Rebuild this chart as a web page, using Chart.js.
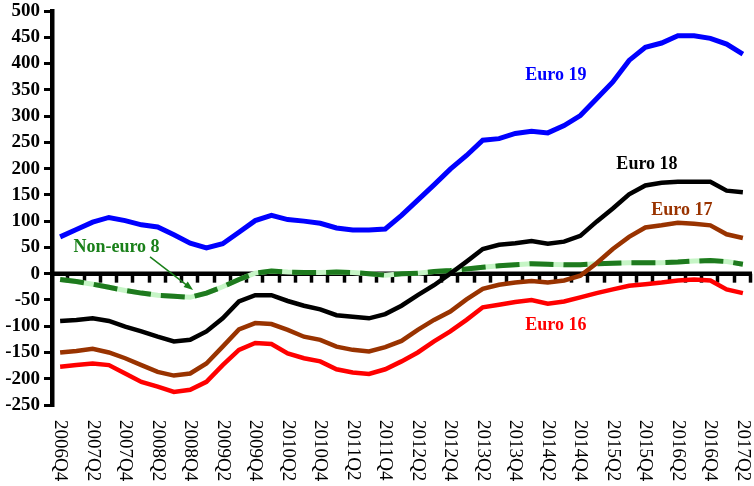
<!DOCTYPE html>
<html>
<head>
<meta charset="utf-8">
<script src="https://cdn.jsdelivr.net/npm/chart.js@4/dist/chart.umd.min.js"></script>
<style>
  html, body { margin: 0; padding: 0; background: #fff; }
  #wrap { width: 754px; height: 486px; }
</style>
</head>
<body>
<div id="wrap"><canvas id="grafico" width="754" height="486"></canvas></div>
<script>
const quarters = [
  '2006Q4', '2007Q1', '2007Q2', '2007Q3', '2007Q4', '2008Q1', '2008Q2', '2008Q3', '2008Q4',
  '2009Q1', '2009Q2', '2009Q3', '2009Q4', '2010Q1', '2010Q2', '2010Q3', '2010Q4',
  '2011Q1', '2011Q2', '2011Q3', '2011Q4', '2012Q1', '2012Q2', '2012Q3', '2012Q4',
  '2013Q1', '2013Q2', '2013Q3', '2013Q4', '2014Q1', '2014Q2', '2014Q3', '2014Q4',
  '2015Q1', '2015Q2', '2015Q3', '2015Q4', '2016Q1', '2016Q2', '2016Q3', '2016Q4',
  '2017Q1', '2017Q2'
];

const euro19 = [70, 84, 98, 107, 101, 93, 89, 74, 58, 49, 57, 79, 101, 111, 103, 100, 96, 87, 83, 83, 85,
  111, 140, 169, 199, 225, 254, 257, 267, 271, 268, 282, 301, 333, 365, 406, 431, 439, 453, 453, 448, 437, 418];
const euro18 = [-90, -88, -85, -90, -101, -110, -120, -129, -126, -110, -85, -53, -41, -41, -52, -61, -68, -79, -82, -85, -77,
  -61, -41, -22, 0, 23, 47, 55, 58, 62, 57, 61, 72, 99, 124, 151, 168, 173, 175, 175, 175, 158, 155];
const euro17 = [-150, -147, -143, -150, -161, -174, -187, -194, -190, -171, -139, -106, -94, -96, -107, -120, -126, -139, -145, -148, -140,
  -128, -107, -88, -72, -49, -29, -21, -17, -14, -17, -13, -4, 20, 47, 70, 88, 92, 97, 95, 92, 75, 68];
const euro16 = [-177, -174, -171, -174, -190, -206, -215, -225, -221, -206, -174, -145, -132, -134, -152, -161, -167, -182, -188, -191, -182,
  -167, -150, -129, -110, -88, -64, -59, -54, -50, -57, -53, -45, -37, -30, -23, -20, -17, -13, -11, -13, -30, -37];
const nonEuro8 = [-11, -15, -20, -26, -32, -37, -41, -43, -45, -37, -25, -11, 1, 5, 3, 2, 2, 3, 2, 0, -3,
  0, 1, 4, 6, 9, 12, 15, 17, 19, 18, 17, 17, 19, 20, 21, 21, 21, 22, 24, 25, 23, 18];

const yMin = -250, yMax = 500, yStep = 50;

const serif = "'Liberation Serif', 'Times New Roman', serif";

// etiquetas de las series: [texto, color, indice (fraccional), valor]
const rotulos = [
  ['Euro 19', '#0000ff', 30.5, 378],
  ['Euro 18', '#000000', 36.1, 209],
  ['Euro 17', '#993300', 38.25, 121],
  ['Euro 16', '#ff0000', 30.5, -98],
  ['Non-euro 8', '#1a801a', 3.47, 51]
];

const ejesPlugin = {
  id: 'ejes',
  beforeDatasetsDraw(chart) {
    const { ctx, chartArea } = chart;
    const y = chart.scales.y;
    const y0 = y.getPixelForValue(0);
    const n = quarters.length;
    const w = (chartArea.right - chartArea.left) / n;
    ctx.save();
    ctx.strokeStyle = '#000';
    ctx.lineWidth = 3.5;
    for (let k = 1; k <= n; k++) {
      const px = Math.round(chartArea.left + k * w) - 0.5;
      ctx.beginPath();
      ctx.moveTo(px, y0);
      ctx.lineTo(px, y0 + 9);
      ctx.stroke();
    }
    ctx.lineWidth = 4.5;
    ctx.beginPath();
    ctx.moveTo(chartArea.left, y0);
    ctx.lineTo(chartArea.right + 1, y0);
    ctx.stroke();
    ctx.restore();
  },
  afterDraw(chart) {
    const { ctx } = chart;
    const x = chart.scales.x, y = chart.scales.y;

    // rotulos del eje x, girados hacia abajo
    ctx.save();
    ctx.fillStyle = '#000';
    ctx.font = '19px ' + serif;
    ctx.textAlign = 'left';
    ctx.textBaseline = 'middle';
    for (let i = 0; i < quarters.length; i += 2) {
      ctx.save();
      ctx.translate(x.getPixelForValue(i), 420);
      ctx.rotate(Math.PI / 2);
      ctx.fillText(quarters[i], 0, 0);
      ctx.restore();
    }
    ctx.restore();

    // nombres de las series
    ctx.save();
    ctx.font = 'bold 18px ' + serif;
    ctx.textAlign = 'center';
    ctx.textBaseline = 'middle';
    rotulos.forEach(([txt, col, idx, val]) => {
      ctx.fillStyle = col;
      ctx.fillText(txt, x.getPixelForValue(idx), y.getPixelForValue(val));
    });

    // flecha de Non-euro 8
    const x1 = x.getPixelForValue(5.53), y1 = y.getPixelForValue(32);
    const x2 = x.getPixelForValue(8.18), y2 = y.getPixelForValue(-31);
    const ang = Math.atan2(y2 - y1, x2 - x1);
    ctx.strokeStyle = '#1a801a';
    ctx.fillStyle = '#1a801a';
    ctx.lineWidth = 1.5;
    ctx.beginPath();
    ctx.moveTo(x1, y1);
    ctx.lineTo(x2 - 6 * Math.cos(ang), y2 - 6 * Math.sin(ang));
    ctx.stroke();
    ctx.beginPath();
    ctx.moveTo(x2, y2);
    ctx.lineTo(x2 - 10 * Math.cos(ang - 0.35), y2 - 10 * Math.sin(ang - 0.35));
    ctx.lineTo(x2 - 10 * Math.cos(ang + 0.35), y2 - 10 * Math.sin(ang + 0.35));
    ctx.closePath();
    ctx.fill();
    ctx.restore();
  }
};

function serie(label, data, color, width, extra) {
  return Object.assign({
    label: label,
    data: data,
    borderColor: color,
    backgroundColor: color,
    borderWidth: width,
    pointRadius: 0,
    tension: 0,
    fill: false
  }, extra || {});
}

new Chart(document.getElementById('grafico'), {
  type: 'line',
  data: {
    labels: quarters,
    datasets: [
      serie('Euro 19', euro19, '#0000ff', 5),
      serie('Euro 18', euro18, '#000000', 4.5),
      serie('Euro 17', euro17, '#993300', 4.5),
      serie('Euro 16', euro16, '#ff0000', 4.5),
      serie('Non-euro 8', nonEuro8, '#1e7a1e', 5, { borderDash: [24, 10] }),
      serie('Non-euro 8 fondo', nonEuro8, '#c6f5c6', 5)
    ]
  },
  options: {
    responsive: false,
    animation: false,
    layout: { padding: { top: 11, right: 3, bottom: 81, left: 0 } },
    plugins: { legend: { display: false }, tooltip: { enabled: false } },
    scales: {
      x: {
        display: false,
        offset: true
      },
      y: {
        min: yMin,
        max: yMax,
        afterFit(scale) {
          scale.width = 52;
          scale.paddingTop = 0;
          scale.paddingBottom = 0;
        },
        border: { display: true, color: '#000', width: 4.5 },
        grid: { drawOnChartArea: false, tickLength: 8, color: '#000', lineWidth: 3 },
        ticks: {
          stepSize: yStep,
          color: '#000',
          padding: 4,
          font: { family: serif, size: 19, weight: 'bold' }
        }
      }
    }
  },
  plugins: [ejesPlugin]
});
</script>
</body>
</html>
